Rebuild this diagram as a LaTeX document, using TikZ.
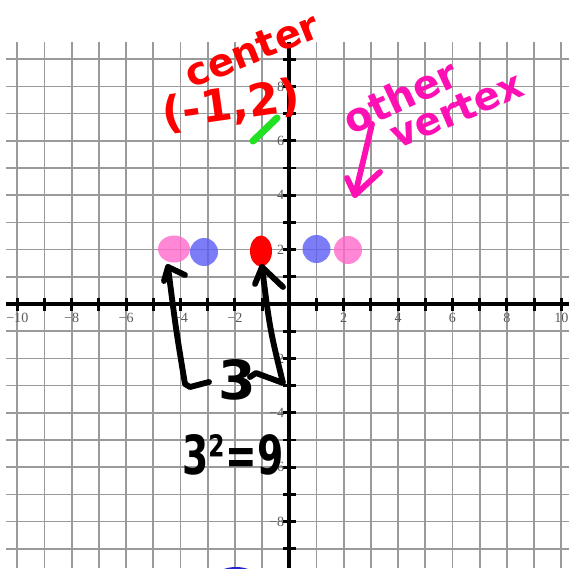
\documentclass[tikz,border=0pt]{standalone}
\usepackage{fontspec}
\setmainfont{Liberation Serif}
\newfontfamily\hand{DejaVu Sans}
\usetikzlibrary{shapes.geometric}
\definecolor{gridgray}{HTML}{9A9A9A}
\definecolor{lblgray}{HTML}{5A5A5A}
\definecolor{penred}{HTML}{FF0000}
\definecolor{penmag}{HTML}{FF10B4}
\definecolor{dotpink}{HTML}{FF6ACB}
\definecolor{dotblue}{HTML}{5C5CF6}
\definecolor{pengreen}{HTML}{22E022}
\definecolor{darkblue}{HTML}{2424CC}
\tikzset{
  gridline/.style={draw=gridgray, line width=1.5pt},
  axisline/.style={draw=black, line width=3.2pt},
  tickline/.style={draw=black, line width=2.5pt},
  lbl/.style={text=lblgray, font=\fontsize{12}{12}\selectfont, inner sep=0pt},
  softdot/.style={ellipse, fill opacity=0.8, inner sep=0pt},
  pen/.style={line width=5pt, line cap=round, line join=round},
  handtext/.style={inner sep=0pt, font=\hand\bfseries\fontsize{#1}{#1}\selectfont},
}
\begin{document}
\begin{tikzpicture}[x=0.03cm, y=-0.03cm]
\useasboundingbox (0,0) rectangle (569,568);
\fill[white] (0,0) rectangle (569,568);
% grid
\foreach \k in {-10,...,10}
  \draw[gridline] ({289.3+27.2*\k},42) -- ({289.3+27.2*\k},568);
\foreach \j in {-9,...,9}
  \draw[gridline] (6,{304-27.2*\j}) -- (569,{304-27.2*\j});
% axes
\draw[axisline] (6,304) -- (569,304);
\draw[axisline] (289.3,42) -- (289.3,568);
\foreach \k in {-10,...,-1,1,2,...,10}
  \draw[tickline] ({289.3+27.2*\k},297.5) -- ({289.3+27.2*\k},310.5);
\foreach \j in {-9,...,-1,1,2,...,9}
  \draw[tickline] (283,{304-27.2*\j}) -- (296,{304-27.2*\j});
% axis labels
\foreach \k/\t in {-10/−10,-8/−8,-6/−6,-4/−4,-2/−2,2/2,4/4,6/6,8/8,10/10}
  \node[lbl] (xl\k) at ({289.3+27.2*\k},318) {\t};
\foreach \j/\t in {8/8,6/6,4/4,2/2,-2/−2,-4/−4,-6/−6,-8/−8}
  \node[lbl, anchor=east] (yl\j) at (284.5,{304-27.2*\j}) {\t};
% dots
\node[softdot, fill=dotpink, minimum width=32*0.03cm, minimum height=27*0.03cm] (pinkL) at (174,249) {};
\node[softdot, fill=dotblue, minimum width=28*0.03cm, minimum height=28*0.03cm] (blueL) at (204,252) {};
\node[softdot, fill=dotblue, minimum width=28*0.03cm, minimum height=28*0.03cm] (blueR) at (316.5,249) {};
\node[softdot, fill=dotpink, minimum width=28*0.03cm, minimum height=28*0.03cm] (pinkR) at (348,250) {};
\node[ellipse, fill=penred, inner sep=0pt, minimum width=22*0.03cm, minimum height=31*0.03cm] (ctr) at (261,251) {};
\node[ellipse, fill=darkblue, inner sep=0pt, minimum width=38*0.03cm, minimum height=18*0.03cm] (blueB) at (236,576) {};
% green stroke
\coordinate (g1) at (253,141);
\coordinate (g2) at (277,118);
\draw[pen, draw=pengreen, line width=6pt] (g1) -- (g2);
% red text
\node[handtext=33, text=penred, rotate=22] (centerlbl) at (252,50) {center};
\node[handtext=38, text=penred, rotate=8] (ctrcoord) at (231,106) {(-1,2)};
% magenta text and arrow
\node[handtext=34, text=penmag, rotate=25] (otherlbl) at (400,96) {other};
\node[handtext=33, text=penmag, rotate=23] (vertexlbl) at (457,110) {vertex};
\coordinate (m0) at (372,124);
\coordinate (m1) at (355,195);
\coordinate (mw1) at (347,178);
\coordinate (mw2) at (380,172);
\draw[pen, draw=penmag] (m0) -- (m1);
\draw[pen, draw=penmag] (mw1) -- (m1) -- (mw2);
% black bracket arrows
\coordinate (la) at (168,267);
\coordinate (lw1) at (164,281);
\coordinate (lw2) at (185,275);
\coordinate (lb) at (185,384);
\coordinate (lc) at (209,382);
\coordinate (ra) at (262,267);
\coordinate (rw1) at (255,284);
\coordinate (rw2) at (283,287);
\coordinate (rb) at (283,383);
\coordinate (rc) at (250,377);
\draw[pen] (lc) -- (190,387) -- (lb) .. controls (176,330) .. (la);
\draw[pen] (lw1) -- (la) -- (lw2);
\draw[pen] (rc) -- (256,373) -- (rb) .. controls (270,330) .. (ra);
\draw[pen] (rw1) -- (ra) -- (rw2);
\node[handtext=46] (three) at (237,380) {3};
\node[handtext=46] (eq) at (233,455) {\scalebox{0.7}[1]{3²=9}};
\end{tikzpicture}
\end{document}
